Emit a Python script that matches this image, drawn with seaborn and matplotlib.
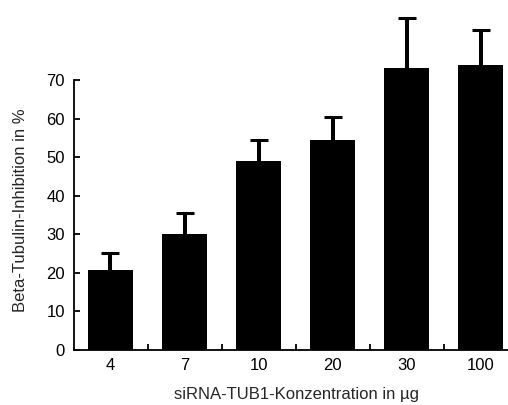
import matplotlib
matplotlib.use("Agg")
import matplotlib.pyplot as plt
import seaborn as sns
import numpy as np
import pandas as pd

categories = ["4", "7", "10", "20", "30", "100"]
means = [20.7, 30.1, 48.9, 54.5, 73.2, 73.8]
errors = [4.5, 5.3, 5.6, 6.0, 13.0, 9.2]
yticks = [0, 10, 20, 30, 40, 50, 60, 70]

sns.set_style("white")
plt.rcParams["font.family"] = ["Liberation Sans", "DejaVu Sans"]

df = pd.DataFrame({"conc": categories, "val": means})

fig = plt.figure(figsize=(5.08, 4.05), dpi=100)
ax = fig.add_axes([74/508, (405-349.7)/405, (508-74)/508, 349.7/405])

sns.barplot(data=df, x="conc", y="val", color="black", width=0.61,
            saturation=1, ax=ax, edgecolor="none")
pos = np.arange(len(categories))
eb = ax.errorbar(pos, means, yerr=[np.zeros(len(errors)), errors], fmt="none",
                 ecolor="black", elinewidth=2.9, capsize=6.7, capthick=2.2)
caps = eb[1]
if len(caps) == 2:
    caps[0].set_visible(False)

ax.set_xlim(-0.493, 5.37)
ax.set_ylim(0, 90.76)
ax.set_yticks(yticks)
ax.spines["top"].set_visible(False)
ax.spines["right"].set_visible(False)
ax.spines["left"].set_bounds(0, 70)
for s in ["left", "bottom"]:
    ax.spines[s].set_linewidth(1.3)
    ax.spines[s].set_color("black")

ax.tick_params(axis="y", direction="in", length=4.3, width=1.3, pad=6.5,
               labelsize=12, colors="black", left=True)
ax.tick_params(axis="x", which="major", length=0, pad=6, labelsize=12,
               colors="black")
ax.set_xticks(pos[:-1] + 0.5, minor=True)
ax.tick_params(axis="x", which="minor", direction="in", length=4.3,
               width=1.3, bottom=True, colors="black")

ax.set_xlabel("siRNA-TUB1-Konzentration in µg", fontsize=12)
ax.xaxis.set_label_coords((296-74)/434, (349.7-387)/349.7)
ax.set_ylabel("Beta-Tubulin-Inhibition in %", fontsize=12)
ax.yaxis.set_label_coords(-(74-28)/434, (349.7-210)/349.7)

fig.savefig("out.png", dpi=100)
